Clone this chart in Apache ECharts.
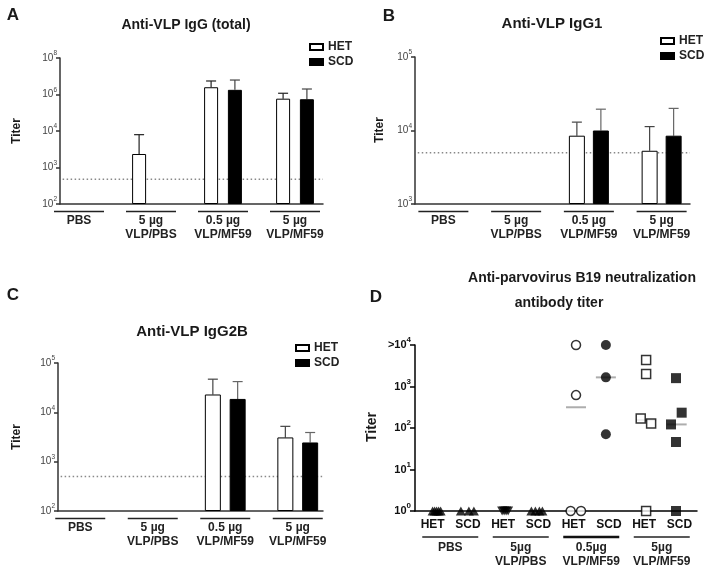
<!DOCTYPE html>
<html><head><meta charset="utf-8">
<script src="https://cdn.jsdelivr.net/npm/echarts@6/dist/echarts.min.js"></script>
<style>html,body{margin:0;padding:0;background:#fff}#c{width:715px;height:576px}</style>
</head><body><div id="c"></div>
<script>
// ---------- data ----------
const groupsBar = ['PBS', '5 µg\nVLP/PBS', '0.5 µg\nVLP/MF59', '5 µg\nVLP/MF59'];

const tickValsA = [1, 1e2, 1e4, 1e6, 1e8];
const ticksA = ['10²', '10³', '10⁴', '10⁶', '10⁸'];
const hetA = [null, 550, 2.5e6, 5.9e5];
const hetAErr = [null, 6300, 5.5e6, 1.17e6];
const scdA = [null, null, 1.8e6, 5.5e5];
const scdAErr = [null, null, 6.2e6, 2.0e6];
const lodA = 23;

const tickValsB = [1e3, 1e4, 1e5];
const ticksB = ['10³', '10⁴', '10⁵'];
const hetB = [null, null, 8500, 5300];
const hetBErr = [null, null, 13000, 11300];
const scdB = [null, null, 10000, 8500];
const scdBErr = [null, null, 19500, 20000];
const lodB = 5000;

const tickValsC = [1e2, 1e3, 1e4, 1e5];
const ticksC = ['10²', '10³', '10⁴', '10⁵'];
const hetC = [null, null, 23000, 3100];
const hetCErr = [null, null, 47000, 5200];
const scdC = [null, null, 18700, 2450];
const scdCErr = [null, null, 42000, 3900];
const lodC = 500;

const catsD = ['PBS|HET', 'PBS|SCD', 'VLP/PBS|HET', 'VLP/PBS|SCD', '0.5 MF59|HET', '0.5 MF59|SCD', '5 MF59|HET', '5 MF59|SCD'];
const groupsD = ['PBS', '5µg\nVLP/PBS', '0.5µg\nVLP/MF59', '5µg\nVLP/MF59'];
const tickValsD = [1, 10, 100, 1000, 10000];
const ticksD = ['10⁰', '10¹', '10²', '10³', '>10⁴'];
const dPbsHet = [1, 1, 1, 1, 1];
const dPbsScd = [1, 1, 1];
const dVlpPbsHet = [1, 1, 1, 1];
const dVlpPbsScd = [1, 1, 1, 1];
const dMf05Het = [10000, 620, 1, 1];
const dMf05Scd = [10000, 1660, 71];
const dMf5Het = [4370, 2000, 170, 129, 1];
const dMf5Scd = [1590, 234, 122, 46, 1];
const dMedian = [null, null, null, null, 316, 1660, 155, 122];

// horizontal jitter of the scatter points (px, layout only)
const jPbsHet = [0, 2, 4, 6, 8];
const jPbsScd = [-7, 1, 6];
const jVlpPbsHet = [-1, 1, 3, 5];
const jVlpPbsScd = [-7, -3, 1, 4];
const jMf05Het = [2.4, 2.4, -3, 7.4];
const jMf05Scd = [-3, -3, -3];
const jMf5Het = [2, 2, -3.4, 7, 2];
const jMf5Scd = [-3.4, 2.3, -8.4, -3.4, -3.4];
const jMedian = [0, 0, 0, 0, 2.4, -3, 2, -2.7];

// ---------- styling helpers ----------
const FF = '"Liberation Sans", Arial, Helvetica, sans-serif';
const AX = '#333';
const SUP = {'⁰': '0', '¹': '1', '²': '2', '³': '3', '⁴': '4', '⁵': '5', '⁶': '6', '⁷': '7', '⁸': '8', '⁹': '9'};

function supRich(label) {
  let base = '', sup = '';
  for (const ch of label) { if (SUP[ch] !== undefined) sup += SUP[ch]; else base += ch; }
  return '{b|' + base + '}{s|' + sup + '}';
}
function pickLabel(vals, labels, v) {
  const k = vals.findIndex(t => Math.abs(Math.log10(t) - Math.log10(v)) < 0.01);
  return k < 0 ? '' : supRich(labels[k]);
}

const grids = [
  {left: 60, top: 58, width: 263, height: 146},   // 0 A axes
  {left: 43, top: 58, width: 288, height: 146},   // 1 A data
  {left: 415, top: 57, width: 275, height: 147},  // 2 B axes
  {left: 407, top: 57, width: 291, height: 147},  // 3 B data
  {left: 58, top: 363, width: 265, height: 148},  // 4 C axes
  {left: 44, top: 363, width: 290, height: 148},  // 5 C data
  {left: 415, top: 345, width: 282, height: 166}  // 6 D
].map(g => Object.assign({outerBoundsMode: 'none', containLabel: false}, g));

function lineX(g) {
  return {gridIndex: g, type: 'value', min: 0, max: 1,
    axisLine: {show: true, lineStyle: {color: AX, width: 1.5}},
    axisTick: {show: false}, axisLabel: {show: false}, splitLine: {show: false}};
}
function groupX(g, cats, lineW, margin, barLH, offset, thickIdx) {
  return {gridIndex: g, type: 'category', data: cats, boundaryGap: true, position: 'bottom', offset: offset || 0,
    axisLine: {show: false}, axisTick: {show: false}, splitLine: {show: false},
    axisLabel: {interval: 0, margin: margin, color: '#222',
      formatter: (v, i) => (i === thickIdx ? '{bar2|}' : '{bar|}') + '\n' + v.split('\n').map(s => '{t|' + s + '}').join('\n'),
      rich: {
        bar: {width: lineW, height: 1.3, lineHeight: barLH, backgroundColor: '#222'},
        bar2: {width: lineW, height: 2.6, lineHeight: barLH, backgroundColor: '#111'},
        t: {fontSize: 12, fontWeight: 'bold', lineHeight: 14, color: '#222', fontFamily: FF}
      }}};
}
function logY(g, vals, ticks, min, max, base, show) {
  return {gridIndex: g, type: 'log', logBase: base, min: min, max: max, show: show, startValue: min,
    axisLine: {show: true, lineStyle: {color: AX, width: 1.5}},
    axisTick: {show: true, length: 4, lineStyle: {color: AX, width: 1.5}},
    axisLabel: {show: true, showMinLabel: true, showMaxLabel: true, margin: 3, color: '#444',
      formatter: v => pickLabel(vals, ticks, v),
      rich: {
        b: {fontSize: 10, lineHeight: 16, color: '#444', fontFamily: FF},
        s: {fontSize: 6.5, lineHeight: 16, verticalAlign: 'top', color: '#444', fontFamily: FF}
      }},
    splitLine: {show: false}};
}

function barSeries(name, xi, yi, data, bw, gap) {
  const het = name === 'HET';
  return {type: 'bar', name: name, xAxisIndex: xi, yAxisIndex: yi, data: data, barWidth: bw, barGap: gap, clip: true,
    itemStyle: het ? {color: '#fff', borderColor: '#000', borderWidth: 1} : {color: '#000', borderColor: '#000', borderWidth: 1},
    emphasis: {disabled: true}, z: 3};
}
function errSeries(xi, yi, vals, errs, dx, color) {
  const data = [];
  vals.forEach((v, i) => { if (v != null && errs[i] != null) data.push([i, v, errs[i]]); });
  return {type: 'custom', xAxisIndex: xi, yAxisIndex: yi, data: data, clip: false, silent: true, z: 2,
    renderItem: (p, api) => {
      const a = api.coord([api.value(0), api.value(1)]);
      const b = api.coord([api.value(0), api.value(2)]);
      const x = a[0] + dx;
      return {type: 'group', children: [
        {type: 'line', shape: {x1: x, y1: a[1], x2: x, y2: b[1]}, style: {stroke: color, lineWidth: 1.2}},
        {type: 'line', shape: {x1: x - 5, y1: b[1], x2: x + 5, y2: b[1]}, style: {stroke: color, lineWidth: 1.2}}
      ]};
    }};
}
function lodSeries(xi, yi, v) {
  return {type: 'line', xAxisIndex: xi, yAxisIndex: yi, data: [[0.01, v], [1, v]], symbol: 'none', silent: true,
    lineStyle: {type: [1.5, 2.5], color: '#888', width: 1.5}, z: 1};
}

// D scatter series
const dSets = [
  {vals: dPbsHet, jit: jPbsHet, symbol: 'triangle', rot: 0, open: false, size: [10, 9]},
  {vals: dPbsScd, jit: jPbsScd, symbol: 'triangle', rot: 0, open: false, size: [10, 9]},
  {vals: dVlpPbsHet, jit: jVlpPbsHet, symbol: 'triangle', rot: 180, open: false, size: [10, 9]},
  {vals: dVlpPbsScd, jit: jVlpPbsScd, symbol: 'triangle', rot: 0, open: false, size: [10, 9]},
  {vals: dMf05Het, jit: jMf05Het, symbol: 'circle', rot: 0, open: true, size: 9},
  {vals: dMf05Scd, jit: jMf05Scd, symbol: 'circle', rot: 0, open: false, size: 10},
  {vals: dMf5Het, jit: jMf5Het, symbol: 'rect', rot: 0, open: true, size: 9},
  {vals: dMf5Scd, jit: jMf5Scd, symbol: 'rect', rot: 0, open: false, size: 10}
];
const dSeries = dSets.map((s, ci) => ({
  type: 'scatter', xAxisIndex: 6, yAxisIndex: 6, symbol: s.symbol, symbolRotate: s.rot, symbolSize: s.size,
  itemStyle: s.open ? {color: '#fff', borderColor: '#000', borderWidth: 1.5} : {color: '#000'},
  emphasis: {disabled: true}, silent: true, z: 4,
  data: s.vals.map((v, k) => ({value: [ci, v], symbolOffset: [s.jit[k], 0]}))
}));
const medSeries = {
  type: 'scatter', xAxisIndex: 6, yAxisIndex: 6, symbol: 'rect', symbolSize: [20, 2], silent: true, z: 3,
  itemStyle: {color: '#999'},
  data: dMedian.map((v, ci) => v == null ? null : {value: [ci, v], symbolOffset: [jMedian[ci], 0]}).filter(Boolean)
};

function txt(text, x, y, size, rot, weight) {
  return {type: 'text', x: x, y: y, rotation: rot || 0,
    style: {text: text, fill: '#1a1a1a', fontSize: size, fontWeight: weight || 'bold', fontFamily: FF,
      align: 'center', verticalAlign: 'middle'}};
}
function legendAt(left, top) {
  return {show: true, orient: 'vertical', left: left, top: top, data: ['HET', 'SCD'], selectedMode: false,
    icon: 'rect', itemWidth: 13, itemHeight: 6, itemGap: 1, padding: 0,
    textStyle: {fontSize: 12, fontWeight: 'bold', color: '#222', fontFamily: FF, lineHeight: 14}};
}

const option = {
  animation: false,
  backgroundColor: '#fff',
  grid: grids,
  legend: [legendAt(309, 40), legendAt(660, 34), legendAt(295, 341)],
  xAxis: [
    lineX(0), groupX(1, groupsBar, 50, 5, 5, 0, -1),
    lineX(2), groupX(3, groupsBar, 50, 5, 5, 0, -1),
    lineX(4), groupX(5, groupsBar, 50, 5, 5, 0, -1),
    {gridIndex: 6, type: 'category', data: catsD, boundaryGap: true, position: 'bottom',
      axisLine: {show: true, lineStyle: {color: '#000', width: 1.5}}, axisTick: {show: false}, splitLine: {show: false},
      axisLabel: {interval: 0, margin: 8, fontSize: 12, fontWeight: 'bold', color: '#111', fontFamily: FF,
        formatter: v => v.split('|')[1]}},
    groupX(6, groupsD, 56, 2, 8, 20, 2)
  ],
  yAxis: [
    logY(0, tickValsA, ticksA, 1, 1e8, 100, true), logY(1, tickValsA, ticksA, 1, 1e8, 100, false),
    logY(2, tickValsB, ticksB, 1e3, 1e5, 10, true), logY(3, tickValsB, ticksB, 1e3, 1e5, 10, false),
    logY(4, tickValsC, ticksC, 1e2, 1e5, 10, true), logY(5, tickValsC, ticksC, 1e2, 1e5, 10, false),
    {gridIndex: 6, type: 'log', logBase: 10, min: 1, max: 1e4,
      axisLine: {show: true, lineStyle: {color: '#000', width: 1.5}},
      axisTick: {show: true, length: 5, lineStyle: {color: '#000', width: 1.5}},
      axisLabel: {showMinLabel: true, showMaxLabel: true, margin: 4, color: '#111',
        formatter: v => pickLabel(tickValsD, ticksD, v),
        rich: {
          b: {fontSize: 11, fontWeight: 'bold', lineHeight: 18, color: '#111', fontFamily: FF},
          s: {fontSize: 8, fontWeight: 'bold', lineHeight: 18, verticalAlign: 'top', color: '#111', fontFamily: FF}
        }},
      splitLine: {show: false}}
  ],
  graphic: [
    txt('A', 13, 15, 17), txt('B', 389, 16, 17), txt('C', 13, 295, 17), txt('D', 376, 297, 17),
    txt('Anti-VLP IgG (total)', 186, 25, 14), txt('Anti-VLP IgG1', 552, 24, 15), txt('Anti-VLP IgG2B', 192, 332, 15),
    txt('Anti-parvovirus B19 neutralization', 582, 278, 14), txt('antibody titer', 559, 303, 14),
    txt('Titer', 17, 131, 12, Math.PI / 2), txt('Titer', 380, 130, 12, Math.PI / 2),
    txt('Titer', 17, 437, 12, Math.PI / 2), txt('Titer', 372, 427, 14, Math.PI / 2)
  ],
  series: [
    lodSeries(0, 0, lodA), lodSeries(2, 2, lodB), lodSeries(4, 4, lodC),
    barSeries('HET', 1, 1, hetA, 14, '70%'), barSeries('SCD', 1, 1, scdA, 14, '70%'),
    errSeries(1, 1, hetA, hetAErr, -11.9, '#222'), errSeries(1, 1, scdA, scdAErr, 11.9, '#444'),
    barSeries('HET', 3, 3, hetB, 16, '50%'), barSeries('SCD', 3, 3, scdB, 16, '50%'),
    errSeries(3, 3, hetB, hetBErr, -12, '#444'), errSeries(3, 3, scdB, scdBErr, 12, '#666'),
    barSeries('HET', 5, 5, hetC, 16, '55%'), barSeries('SCD', 5, 5, scdC, 16, '55%'),
    errSeries(5, 5, hetC, hetCErr, -12.4, '#444'), errSeries(5, 5, scdC, scdCErr, 12.4, '#666'),
    medSeries
  ].concat(dSeries)
};

const chart = echarts.init(document.getElementById('c'), null, {renderer: 'canvas'});
chart.setOption(option);
</script>
</body></html>
